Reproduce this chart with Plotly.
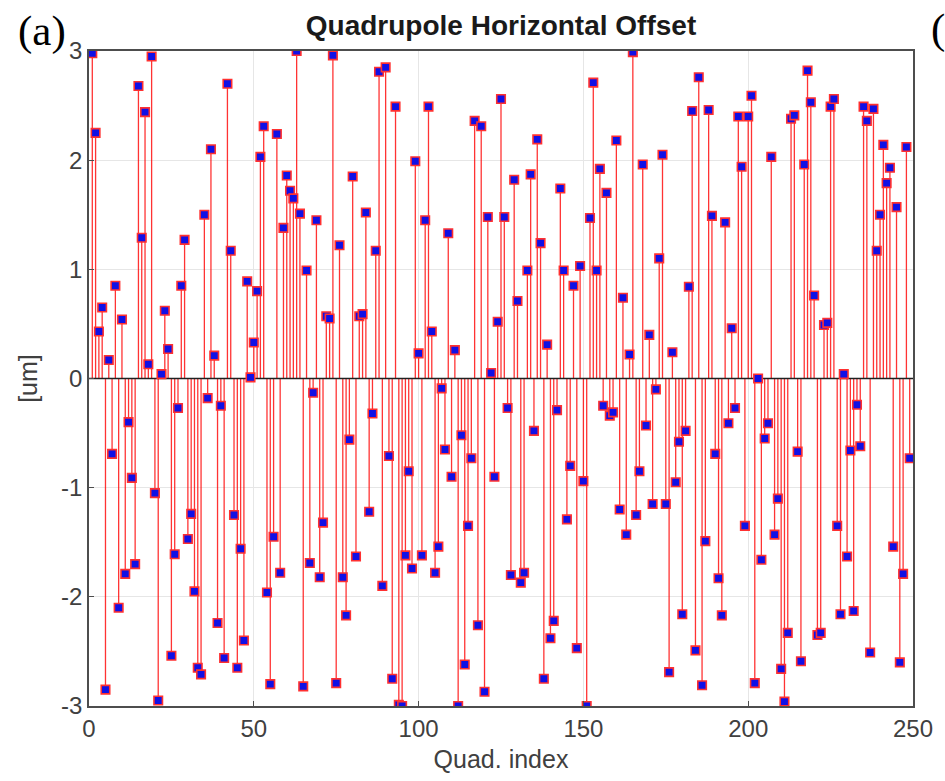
import plotly.graph_objects as go

offsets = [2.98, 2.25, 0.43, 0.65, -2.85, 0.17, -0.69, 0.85, -2.10, 0.54,
           -1.79, -0.40, -0.91, -1.70, 2.68, 1.29, 2.44, 0.13, 2.95, -1.05,
           -2.95, 0.04, 0.62, 0.27, -2.54, -1.61, -0.27, 0.85, 1.27, -1.47,
           -1.24, -1.95, -2.65, -2.71, 1.50, -0.18, 2.10, 0.21, -2.24, -0.25,
           -2.56, 2.70, 1.17, -1.25, -2.65, -1.56, -2.40, 0.89, 0.01, 0.33,
           0.80, 2.03, 2.31, -1.96, -2.80, -1.45, 2.24, -1.78, 1.38, 1.86,
           1.72, 1.65, 3.00, 1.51, -2.82, 0.99, -1.69, -0.13, 1.45, -1.82,
           -1.32, 0.57, 0.55, 2.96, -2.79, 1.22, -1.82, -2.17, -0.56, 1.85,
           -1.63, 0.57, 0.59, 1.52, -1.22, -0.32, 1.17, 2.81, -1.90, 2.85,
           -0.71, -2.75, 2.49, -2.99, -3.00, -1.62, -0.85, -1.74, 1.99, 0.23,
           -1.62, 1.45, 2.49, 0.43, -1.78, -1.54, -0.09, -0.65, 1.33, -0.90,
           0.26, -3.00, -0.52, -2.62, -1.35, -0.73, 2.36, -2.26, 2.31, -2.87,
           1.48, 0.05, -0.90, 0.52, 2.56, 1.48, -0.27, -1.80, 1.82, 0.71,
           -1.87, -1.78, 0.99, 1.87, -0.48, 2.19, 1.24, -2.75, 0.31, -2.38,
           -2.22, -0.29, 1.74, 0.99, -1.29, -0.80, 0.85, -2.47, 1.03, -0.94,
           -3.00, 1.47, 2.71, 0.99, 1.92, -0.25, 1.70, -0.34, -0.31, 2.18,
           -1.20, 0.74, -1.43, 0.22, 2.99, -1.25, -0.85, 1.96, -0.43, 0.40,
           -1.15, -0.10, 1.10, 2.05, -1.15, -2.69, 0.24, -0.95, -0.58, -2.16,
           -0.48, 0.84, 2.45, -2.49, 2.76, -2.81, -1.49, 2.46, 1.49, -0.69,
           -1.83, -2.17, 1.43, -0.41, 0.46, -0.27, 2.40, 1.94, -1.35, 2.40,
           2.59, -2.79, 0.00, -1.66, -0.55, -0.41, 2.03, -1.43, -1.10, -2.66,
           -2.96, -2.33, 2.38, 2.41, -0.67, -2.59, 1.96, 2.82, 2.53, 0.76,
           -2.35, -2.33, 0.49, 0.51, 2.49, 2.56, -1.35, -2.16, 0.04, -1.63,
           -0.66, -2.13, -0.24, -0.62, 2.49, 2.36, -2.51, 2.47, 1.17, 1.50,
           2.14, 1.79, 1.93, -1.54, 1.57, -2.60, -1.79, 2.12, -0.73]
quad_index = list(range(1, len(offsets) + 1))

x_ticks = [0, 50, 100, 150, 200, 250]
x_tick_labels = ["0", "50", "100", "150", "200", "250"]
y_ticks = [-3, -2, -1, 0, 1, 2, 3]
y_tick_labels = ["-3", "-2", "-1", "0", "1", "2", "3"]

stem_x, stem_y = [], []
for xi, yi in zip(quad_index, offsets):
    stem_x += [xi, xi, None]
    stem_y += [0, yi, None]

fig = go.Figure()
fig.add_trace(go.Scatter(x=stem_x, y=stem_y, mode="lines",
                         line=dict(color="rgba(255,0,0,0.8)", width=1.3),
                         hoverinfo="skip", showlegend=False))
fig.add_trace(go.Scatter(x=[0, 250], y=[0, 0], mode="lines",
                         line=dict(color="#202020", width=1.5),
                         hoverinfo="skip", showlegend=False))
fig.add_trace(go.Scatter(x=quad_index, y=offsets, mode="markers",
                         marker=dict(symbol="square", size=8.5, color="#1010e6",
                                     line=dict(color="#ff3030", width=1.6)),
                         showlegend=False))

FONT = "Liberation Sans, Arial, Helvetica"
axis_common = dict(showline=True, linecolor="#4d4d4d", linewidth=1.5, mirror=True,
                   showgrid=True, gridcolor="#e6e6e6", gridwidth=1, zeroline=False,
                   ticks="inside", ticklen=5, tickcolor="#4d4d4d",
                   tickfont=dict(family=FONT, size=24, color="#404040"))

fig.update_layout(
    width=945, height=781,
    margin=dict(l=89, r=25, t=51, b=74),
    paper_bgcolor="white", plot_bgcolor="white",
    title=dict(text="<b>Quadrupole Horizontal Offset</b>", x=0.5, xref="paper",
               xanchor="center", yref="container", y=1 - 25 / 781, yanchor="middle",
               font=dict(family=FONT, size=28, color="#1a1a1a")),
    xaxis=dict(range=[0, 250], tickvals=x_ticks, ticktext=x_tick_labels,
               title=dict(text="Quad. index", standoff=10,
                          font=dict(family=FONT, size=25, color="#404040")),
               **axis_common),
    yaxis=dict(range=[-3, 3], tickvals=y_ticks, ticktext=y_tick_labels,
               title=dict(text="[um]", standoff=16,
                          font=dict(family=FONT, size=25, color="#404040")),
               **axis_common),
    annotations=[
        dict(text="(a)", xref="paper", yref="paper", x=(15 - 89) / 831, y=1 + (51 - 31) / 656,
             xanchor="left", yanchor="middle", showarrow=False,
             font=dict(family="Liberation Serif, Times New Roman", size=43, color="black")),
        dict(text="(", xref="paper", yref="paper", x=(936 - 89) / 831, y=1 + (51 - 29) / 656,
             xanchor="left", yanchor="middle", showarrow=False,
             font=dict(family="Liberation Serif, Times New Roman", size=43, color="black")),
    ],
)

fig.write_html("out.html")
